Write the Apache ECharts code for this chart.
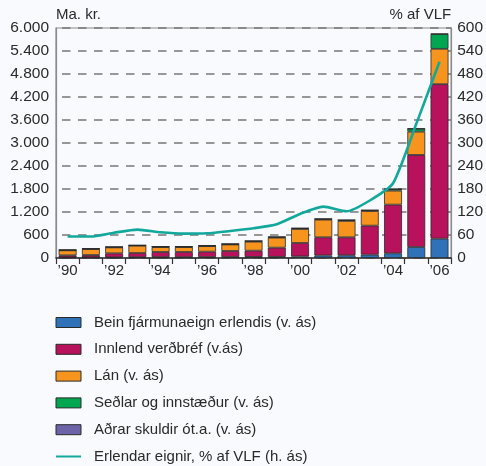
<!DOCTYPE html>
<html>
<head>
<meta charset="utf-8">
<script src="https://cdn.jsdelivr.net/npm/echarts@6/dist/echarts.min.js"></script>
<style>
  html, body { margin: 0; padding: 0; background: #f8fafd; }
  #chart { width: 486px; height: 466px; }
</style>
</head>
<body>
<div id="chart"></div>
<script>
// Years 1990–2006
const years = ['’90','’91','’92','’93','’94','’95','’96','’97','’98','’99','’00','’01','’02','’03','’04','’05','’06'];

// Stacked components, ma. kr. (left axis)
const beinFjarmuna = [15, 15, 18, 20, 22, 22, 25, 25, 28, 30, 40, 65, 70, 87, 122, 287, 505];
const innlendVerdbref = [55, 63, 104, 110, 135, 135, 140, 158, 163, 240, 352, 475, 470, 757, 1270, 2401, 4029];
const lan = [130, 155, 155, 190, 127, 127, 145, 170, 235, 261, 365, 461, 427, 383, 365, 608, 922];
const sedlar = [9, 10, 10, 11, 12, 12, 12, 12, 17, 17, 18, 17, 22, 18, 40, 75, 385];
const adrarSkuldir = [2, 2, 2, 2, 2, 2, 2, 2, 2, 2, 3, 3, 3, 3, 5, 8, 12];

// Foreign assets as % of GDP (right axis)
const erlendarEignir = [56, 56, 66, 74, 67, 63.5, 64.5, 70.5, 77.5, 88, 115, 134, 122, 150, 195, 350, 512];

const fmtThousands = v => String(v).replace(/\B(?=(\d{3})+(?!\d))/g, '.');

const FONT = 'Liberation Sans';
const TXT = '#2a2a2a';
const LINE_COLOR = '#12a89b';

const barNames = [
  'Bein fjármunaeign erlendis (v. ás)',
  'Innlend verðbréf (v.ás)',
  'Lán (v. ás)',
  'Seðlar og innstæður (v. ás)',
  'Aðrar skuldir ót.a. (v. ás)'
];
const lineName = 'Erlendar eignir, % af VLF (h. ás)';

function barSeries(name, data, color) {
  return {
    name, type: 'bar', stack: 'total', yAxisIndex: 0, data,
    barWidth: '77%',
    itemStyle: { color, borderColor: '#2a2a2a', borderWidth: 0.8 }
  };
}

const chart = echarts.init(document.getElementById('chart'), null, { renderer: 'canvas' });
chart.setOption({
  backgroundColor: '#f8fafd',
  animation: false,
  textStyle: { fontFamily: FONT },
  grid: { left: 56, right: 34, top: 28, bottom: 208, show: true, borderColor: '#8a8a8a', borderWidth: 1.2, backgroundColor: 'transparent' },
  legend: {
    orient: 'vertical', left: 55, top: 315, height: 151, padding: 0,
    itemWidth: 25, itemHeight: 10, itemGap: 11.8,
    textStyle: { fontFamily: FONT, fontSize: 15, lineHeight: 15, color: TXT, padding: [0, 0, 0, 8] },
    data: barNames.map(name => ({ name, icon: 'rect', itemStyle: { borderColor: '#2a2a2a', borderWidth: 1 } }))
      .concat([{ name: lineName, itemStyle: { opacity: 0 } }])
  },
  xAxis: {
    type: 'category', data: years, boundaryGap: true,
    axisLine: { lineStyle: { color: '#333', width: 1.5 } },
    axisTick: { show: true, interval: 0, length: 6, lineStyle: { color: '#333', width: 1.2 } },
    axisLabel: { interval: 1, fontFamily: FONT, fontSize: 15, color: TXT, margin: 5 }
  },
  yAxis: [
    {
      type: 'value', min: 0, max: 6000, interval: 600,
      name: 'Ma. kr.', nameLocation: 'end', nameGap: 6,
      nameTextStyle: { fontFamily: FONT, fontSize: 15, color: TXT, align: 'left' },
      axisLine: { show: true, lineStyle: { color: '#8a8a8a', width: 1.2 } },
      axisTick: { show: false },
      axisLabel: { fontFamily: FONT, fontSize: 15.5, color: TXT, margin: 7, formatter: fmtThousands },
      splitLine: { show: true, lineStyle: { color: '#777', width: 1.5, type: [8.5, 7.5], dashOffset: -6 } }
    },
    {
      type: 'value', min: 0, max: 600, interval: 60,
      name: '% af VLF', nameLocation: 'end', nameGap: 6,
      nameTextStyle: { fontFamily: FONT, fontSize: 15, color: TXT, align: 'right' },
      axisLine: { show: true, lineStyle: { color: '#8a8a8a', width: 1.2 } },
      axisTick: { show: false },
      axisLabel: { fontFamily: FONT, fontSize: 15.5, color: TXT, margin: 6 },
      splitLine: { show: false }
    }
  ],
  series: [
    barSeries(barNames[0], beinFjarmuna, '#2f72b8'),
    barSeries(barNames[1], innlendVerdbref, '#b8125c'),
    barSeries(barNames[2], lan, '#f7941d'),
    barSeries(barNames[3], sedlar, '#00a650'),
    barSeries(barNames[4], adrarSkuldir, '#6d63a8'),
    {
      name: lineName, type: 'line', yAxisIndex: 1,
      data: erlendarEignir, symbol: 'none', smooth: 0.2,
      lineStyle: { color: LINE_COLOR, width: 2.6 },
      itemStyle: { color: LINE_COLOR }, z: 5
    }
  ]
});
</script>
</body>
</html>
